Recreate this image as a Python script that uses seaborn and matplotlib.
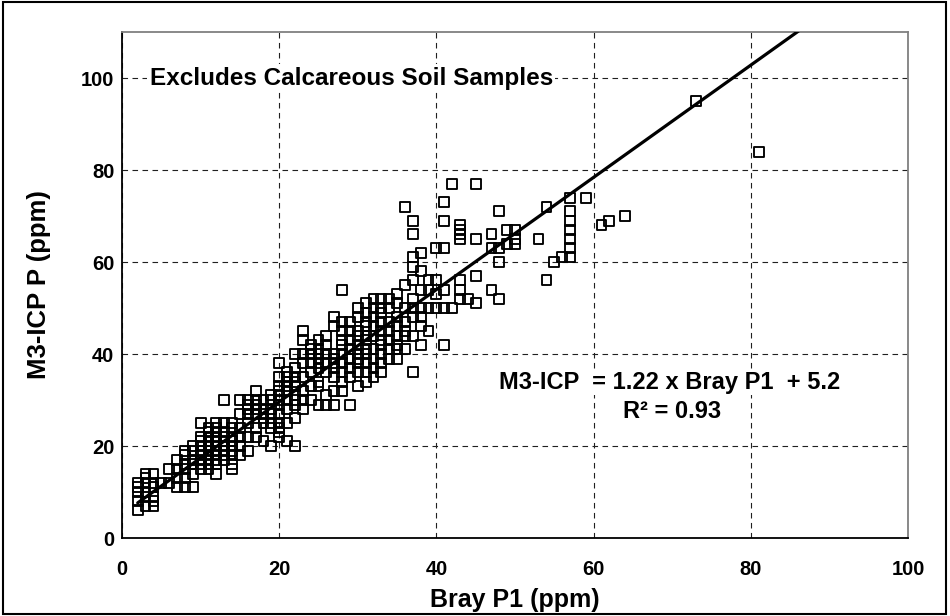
import numpy as np
import pandas as pd
import matplotlib
matplotlib.use("Agg")
import matplotlib.pyplot as plt
import seaborn as sns
from matplotlib.patches import Rectangle

# ---- data (Bray P1 ppm, M3-ICP P ppm), grouped by Bray P1 value ----
bray = (
    [2] * 5 + [3] * 6 + [4] * 6 + [5] + [6] * 2 + [7] * 4 + [8] * 6 + [9] * 6
    + [10] * 9 + [11] * 10 + [12] * 11 + [13] * 9 + [14] * 9 + [15] * 6
    + [16] * 7 + [17] * 7 + [18] * 6 + [19] * 7 + [20] * 12 + [21] * 9
    + [22] * 10 + [23] * 8 + [24] * 7 + [25] * 9 + [26] * 7 + [27] * 9
    + [28] * 10 + [29] * 8 + [30] * 10 + [31] * 11 + [32] * 9 + [33] * 10
    + [34] * 7 + [35] * 8 + [36] * 7 + [37] * 10 + [38] * 7 + [39] * 4
    + [40] * 4 + [41] * 6 + [42] * 2 + [43] * 7 + [44] + [45] * 4 + [47] * 3
    + [48] * 4 + [49] * 2 + [50] * 3 + [53] + [54] * 2 + [55] + [56]
    + [57] * 7 + [59] + [61] + [62] + [64] + [73] + [81]
)
m3 = (
    [6, 8, 10, 11, 12]
    + [7, 9, 10, 12, 13, 14]
    + [7, 8, 9, 11, 12, 14]
    + [12]
    + [12, 15]
    + [11, 13, 15, 17]
    + [11, 13, 15, 16, 18, 19]
    + [11, 14, 16, 17, 19, 20]
    + [15, 16, 17, 18, 19, 20, 21, 22, 25]
    + [15, 16, 17, 18, 19, 20, 21, 22, 23, 24]
    + [14, 16, 17, 18, 19, 20, 21, 22, 23, 24, 25]
    + [17, 18, 19, 20, 21, 22, 23, 25, 30]
    + [15, 16, 18, 19, 20, 21, 22, 24, 25]
    + [18, 20, 22, 24, 27, 30]
    + [19, 22, 25, 27, 28, 29, 30]
    + [22, 24, 27, 28, 29, 30, 32]
    + [21, 25, 26, 27, 28, 30]
    + [20, 24, 25, 27, 28, 30, 31]
    + [22, 23, 24, 25, 27, 29, 30, 31, 32, 33, 35, 38]
    + [21, 25, 28, 30, 32, 33, 34, 35, 36]
    + [20, 26, 29, 30, 31, 33, 34, 35, 37, 40]
    + [28, 30, 32, 35, 38, 40, 43, 45]
    + [30, 33, 36, 38, 40, 41, 42]
    + [29, 33, 34, 37, 38, 39, 40, 41, 43]
    + [29, 31, 36, 38, 40, 42, 44]
    + [29, 32, 35, 37, 38, 39, 40, 46, 48]
    + [32, 34, 36, 38, 40, 42, 43, 45, 47, 54]
    + [29, 35, 37, 39, 41, 43, 45, 47]
    + [33, 36, 38, 39, 40, 42, 44, 45, 48, 50]
    + [34, 36, 38, 40, 41, 43, 44, 46, 47, 49, 51]
    + [35, 37, 39, 41, 44, 46, 48, 50, 52]
    + [36, 38, 40, 42, 43, 45, 47, 49, 50, 52]
    + [39, 41, 43, 45, 47, 50, 52]
    + [39, 41, 42, 44, 46, 48, 51, 53]
    + [41, 44, 45, 47, 50, 55, 72]
    + [36, 44, 48, 50, 52, 56, 59, 61, 66, 69]
    + [42, 46, 48, 50, 54, 58, 62]
    + [45, 50, 54, 56]
    + [50, 53, 56, 63]
    + [42, 50, 54, 63, 69, 73]
    + [50, 77]
    + [52, 54, 56, 65, 66, 67, 68]
    + [52]
    + [51, 57, 65, 77]
    + [54, 63, 66]
    + [52, 60, 63, 71]
    + [64, 67]
    + [64, 65, 67]
    + [65]
    + [56, 72]
    + [60]
    + [61]
    + [61, 63, 65, 67, 69, 71, 74]
    + [74]
    + [68]
    + [69]
    + [70]
    + [95]
    + [84]
)
slope = 1.22
intercept = 5.2
x_ticks = [0, 20, 40, 60, 80, 100]
y_ticks = [0, 20, 40, 60, 80, 100]
title_note = "Excludes Calcareous Soil Samples"
eq_text = "M3-ICP  = 1.22 x Bray P1  + 5.2"
r2_text = "R\u00b2 = 0.93"

df = pd.DataFrame({"bray": bray, "m3": m3})
line_x = np.array([min(bray), 100.0])
line_df = pd.DataFrame({"x": line_x, "y": slope * line_x + intercept})

sns.set_theme(style="white")
plt.rcParams["font.family"] = ["Liberation Sans", "DejaVu Sans"]
plt.rcParams["font.weight"] = "bold"
for key in ["text.color", "axes.labelcolor", "xtick.color", "ytick.color"]:
    plt.rcParams[key] = "black"

fig = plt.figure(figsize=(9.5, 6.16), dpi=100)
ax = fig.add_axes([122 / 950, 1 - 538 / 616, (908 - 122) / 950, (538 - 32) / 616])

ax.grid(True, linestyle=(0, (5, 4)), color="#202020", linewidth=0.8)
ax.set_axisbelow(True)

sns.scatterplot(data=df, x="bray", y="m3", marker="s", s=50,
                facecolor="none", edgecolor="black", linewidth=1.35, ax=ax,
                zorder=3)
sns.lineplot(data=line_df, x="x", y="y", color="black", linewidth=2.3,
             ax=ax, zorder=4)

ax.set_xlim(0, 100)
ax.set_ylim(0, 110)
ax.set_xticks(x_ticks)
ax.set_yticks(y_ticks)
ax.tick_params(direction="inout", length=7, width=1, colors="black",
               labelsize=14.5)
ax.tick_params(axis="x", pad=12)
ax.tick_params(axis="y", pad=2)
for lab in ax.get_xticklabels() + ax.get_yticklabels():
    lab.set_fontweight("bold")

ax.set_xlabel("Bray P1 (ppm)", fontsize=18, fontweight="bold")
ax.set_ylabel("M3-ICP P (ppm)", fontsize=18.5, fontweight="bold")
ax.xaxis.set_label_coords(0.5, -0.098)
ax.yaxis.set_label_coords(-0.09, 0.5)

for side in ["left", "bottom"]:
    ax.spines[side].set_color("black")
    ax.spines[side].set_linewidth(1.3)
for side in ["top", "right"]:
    ax.spines[side].set_color("#808080")
    ax.spines[side].set_linewidth(1.3)

ax.text(3.5, 100, title_note, fontsize=17.5, fontweight="bold", va="center",
        ha="left", zorder=5,
        bbox=dict(facecolor="white", edgecolor="none", pad=2))
ax.text(48, 33.9, eq_text, fontsize=17, fontweight="bold", va="center",
        ha="left", zorder=5,
        bbox=dict(facecolor="white", edgecolor="none", pad=1))
ax.text(70, 27.4, r2_text, fontsize=17, fontweight="bold", va="center",
        ha="center", zorder=5,
        bbox=dict(facecolor="white", edgecolor="none", pad=1))

fig.patches.append(Rectangle((0.003, 0.004), 0.993, 0.992,
                             transform=fig.transFigure, fill=False,
                             edgecolor="black", linewidth=1.5))

fig.savefig("out.png", dpi=100)
